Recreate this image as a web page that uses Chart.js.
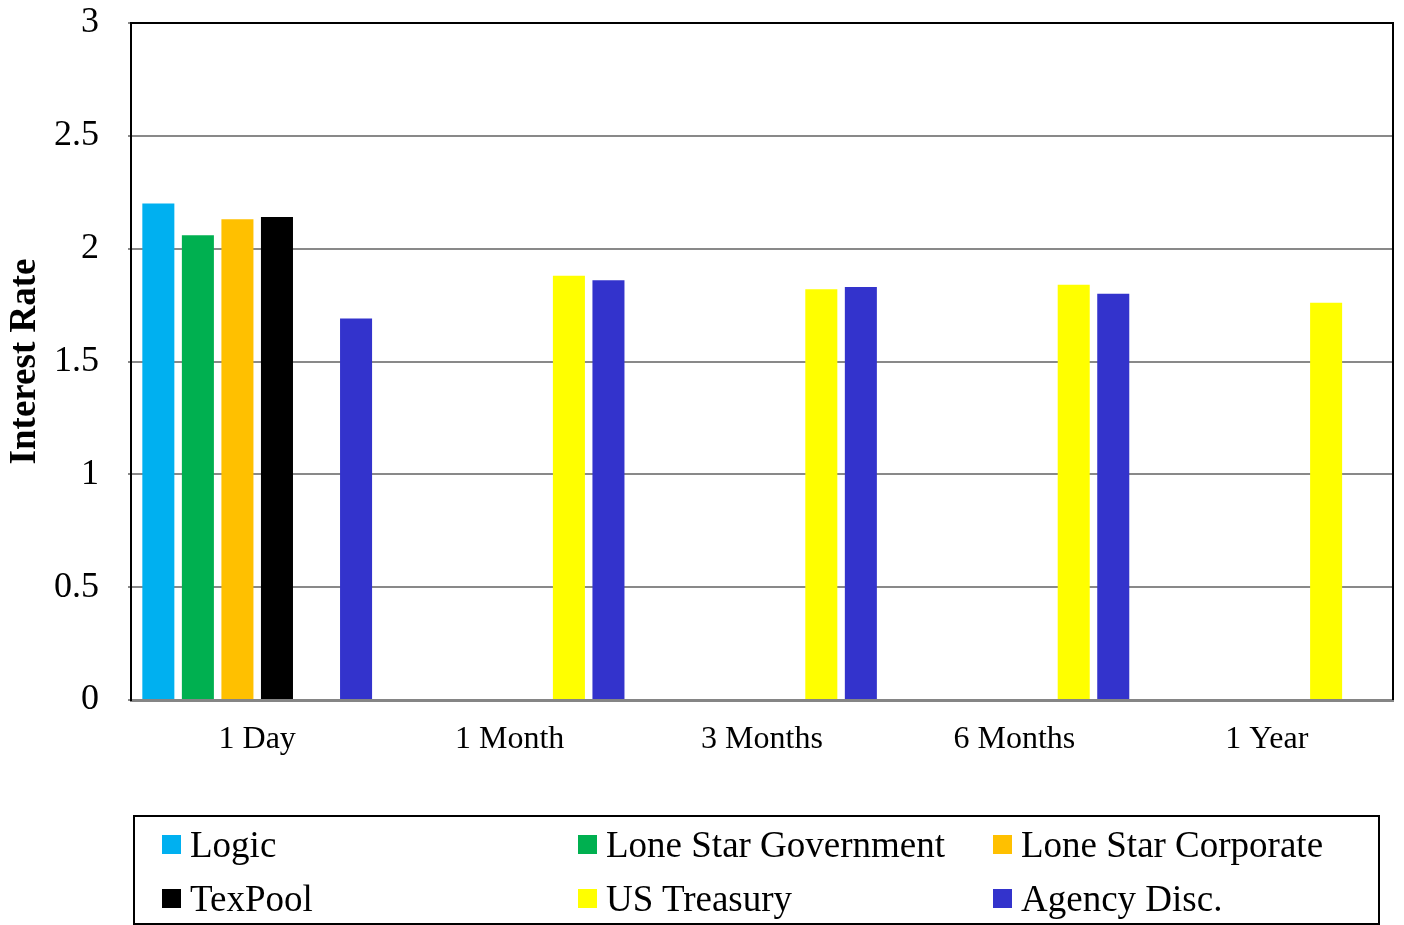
<!DOCTYPE html>
<html lang="en">
<head>
  <meta charset="UTF-8">
  <title>Interest Rate</title>
  <script src="https://cdn.jsdelivr.net/npm/chart.js"></script>
  <style>
    html, body { margin: 0; padding: 0; background: #fff; }
    #wrap { position: relative; width: 1404px; height: 925px; }
    #legend {
      position: absolute; left: 133px; top: 815px; width: 1247px; height: 110px;
      box-sizing: border-box; border: 2px solid #000;
      display: grid; grid-template-columns: 416px 415px 1fr; grid-auto-rows: 54px;
      padding-left: 27px;
      font-family: "Liberation Serif", "Times New Roman", serif; font-size: 37px; color: #000;
    }
    .item { display: flex; align-items: center; white-space: nowrap; }
    .swatch { width: 19px; height: 19px; margin-right: 9px; flex: none; }
  </style>
</head>
<body>
  <div id="wrap">
    <canvas id="rateChart" width="1404" height="925"></canvas>
    <div id="legend"></div>
  </div>

  <script>
    const terms = ['1 Day', '1 Month', '3 Months', '6 Months', '1 Year'];
    const logic = [2.20, null, null, null, null];
    const loneStarGov = [2.06, null, null, null, null];
    const loneStarCorp = [2.13, null, null, null, null];
    const texPool = [2.14, null, null, null, null];
    const usTreasury = [null, 1.88, 1.82, 1.84, 1.76];
    const agencyDisc = [1.69, 1.86, 1.83, 1.80, null];

    const serif = '"Liberation Serif", "Times New Roman", serif';

    const series = [
      { label: 'Logic', data: logic, color: '#00B0F0' },
      { label: 'Lone Star Government', data: loneStarGov, color: '#00B050' },
      { label: 'Lone Star Corporate', data: loneStarCorp, color: '#FFC000' },
      { label: 'TexPool', data: texPool, color: '#000000' },
      { label: 'US Treasury', data: usTreasury, color: '#FFFF00' },
      { label: 'Agency Disc.', data: agencyDisc, color: '#3333CC' }
    ];

    // black frame on top and right of the plot area
    const frame = {
      id: 'frame',
      afterDraw(chart) {
        const { ctx, chartArea: a } = chart;
        ctx.save();
        ctx.strokeStyle = '#000';
        ctx.lineWidth = 2;
        ctx.beginPath();
        ctx.moveTo(a.left, a.top);
        ctx.lineTo(a.right, a.top);
        ctx.lineTo(a.right, a.bottom);
        ctx.stroke();
        ctx.restore();
      }
    };

    const chart = new Chart(document.getElementById('rateChart'), {
      type: 'bar',
      data: {
        labels: terms,
        datasets: series.map(s => ({
          label: s.label,
          data: s.data,
          backgroundColor: s.color,
          categoryPercentage: 0.94,
          barPercentage: 0.81
        }))
      },
      options: {
        responsive: false,
        animation: false,
        layout: { padding: { top: 23, right: 11, bottom: 0, left: 0 } },
        plugins: { legend: { display: false }, tooltip: { enabled: false } },
        scales: {
          x: {
            grid: { display: false, drawTicks: false },
            border: { color: '#858585', width: 3 },
            ticks: { color: '#000', font: { family: serif, size: 32 }, padding: 20 },
            afterFit(scale) { scale.height = 225; }
          },
          y: {
            min: 0, max: 3,
            ticks: {
              stepSize: 0.5, color: '#000', font: { family: serif, size: 36 }, padding: 29,
              callback: v => String(v)
            },
            grid: { color: '#898989', lineWidth: 2, tickLength: 3 },
            border: { color: '#000', width: 2 },
            title: {
              display: true, text: 'Interest Rate', color: '#000',
              font: { family: serif, size: 37, weight: 'bold' },
              padding: { top: 3, bottom: 0 }
            },
            afterFit(scale) {
              scale.width = 131;
              // keep the plot top fixed by the layout padding only
              scale.paddingTop = 0;
              scale.paddingBottom = 0;
            }
          }
        }
      },
      plugins: [frame]
    });

    // legend laid out in three columns
    const legend = document.getElementById('legend');
    chart.data.datasets.forEach(ds => {
      const item = document.createElement('div');
      item.className = 'item';
      const sw = document.createElement('span');
      sw.className = 'swatch';
      sw.style.background = ds.backgroundColor;
      item.appendChild(sw);
      item.appendChild(document.createTextNode(ds.label));
      legend.appendChild(item);
    });
  </script>
</body>
</html>
